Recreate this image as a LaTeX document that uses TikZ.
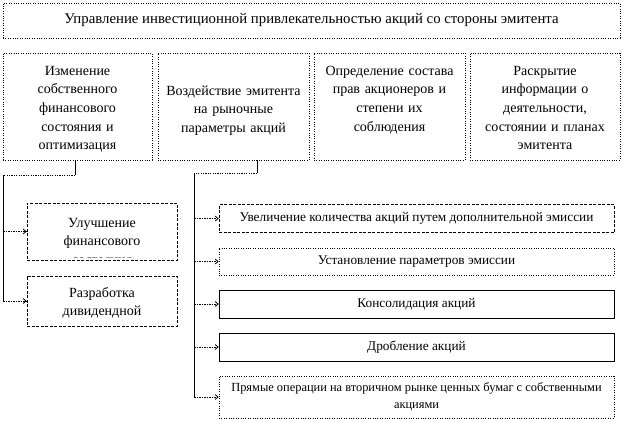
\documentclass[tikz,border=0pt]{standalone}
\usepackage{fontspec}
\setmainfont{Liberation Serif}
\usetikzlibrary{arrows.meta}
\begin{document}
\begin{tikzpicture}[x=1pt,y=-1pt,
  box/.style={draw, inner sep=0pt, line width=0.6pt},
  dotbox/.style={box, dash pattern=on 0.8pt off 1.6pt},
  dashbox/.style={box, dash pattern=on 3pt off 1.5pt},
  solbox/.style={box},
  txt/.style={font=\fontsize{14}{18.7}\selectfont, align=center, inner sep=0pt},
  rtxt/.style={font=\fontsize{13.3}{17}\selectfont, align=center},
  conn/.style={line width=0.8pt},
  hdot/.style={line width=0.9pt, dash pattern=on 1.2pt off 1.2pt},
  arr/.style={line width=0.8pt, dash pattern=on 1.5pt off 1pt, -{Straight Barb[length=3pt,width=5pt]}}]
\useasboundingbox (0,0) rectangle (624,423);

% title
\node[dotbox, minimum width=617pt, minimum height=35pt,
      font=\fontsize{14.8}{18}\selectfont] (title) at (311.5,20.5)
  {Управление инвестиционной привлекательностью акций со стороны эмитента};

% top boxes
\node[dotbox, minimum width=149pt, minimum height=107pt] (b1) at (77.5,106.5) {};
\node[dotbox, minimum width=151pt, minimum height=107pt] (b2) at (233.5,106.5) {};
\node[dotbox, minimum width=151pt, minimum height=107pt] (b3) at (389.5,106.5) {};
\node[dotbox, minimum width=150pt, minimum height=107pt] (b4) at (545,106.5) {};

\node[txt, text width=149pt, anchor=base] (t1) at (77.5,75)
  {Изменение\\собственного\\финансового\\состояния и\\оптимизация};
\node[txt, text width=151pt, anchor=base] (t2) at (233.5,95)
  {Воздействие эмитента\\на рыночные\\параметры акций};
\node[txt, text width=151pt, anchor=base] (t3) at (389.5,75)
  {Определение состава\\прав акционеров и\\степени их\\соблюдения};
\node[txt, text width=150pt, anchor=base] (t4) at (545,75)
  {Раскрытие\\информации о\\деятельности,\\состоянии и планах\\эмитента};

% left sub boxes
\node[dashbox, minimum width=150pt, minimum height=57pt] (l1) at (102,231.5) {};
\node[dashbox, minimum width=150pt, minimum height=50pt] (l2) at (102,301) {};
\begin{scope}
  \clip (l1.north west) rectangle ([yshift=2.5pt]l1.south east);
  \node[txt, text width=150pt, anchor=base] (lt1) at (102,227)
    {Улучшение\\финансового\\состояния};
\end{scope}
\begin{scope}
  \clip (l2.north west) rectangle ([yshift=2.5pt]l2.south east);
  \node[txt, text width=150pt, anchor=base] (lt2) at (102,297)
    {Разработка\\дивидендной\\политики};
\end{scope}

% right sub boxes
\node[dashbox, minimum width=395pt, minimum height=28pt, rtxt] (r1) at (416.5,218.5)
  {Увеличение количества акций путем дополнительной эмиссии};
\node[dotbox, minimum width=395pt, minimum height=27pt, rtxt] (r2) at (416.5,261.5)
  {Установление параметров эмиссии};
\node[solbox, minimum width=395pt, minimum height=28pt, rtxt] (r3) at (416.5,304)
  {Консолидация акций};
\node[solbox, minimum width=395pt, minimum height=28pt, rtxt] (r4) at (416.5,347)
  {Дробление акций};
\node[dotbox, minimum width=395pt, minimum height=42pt, rtxt,
      font=\fontsize{12.4}{16.5}\selectfont] (r5) at (416.5,397)
  {Прямые операции на вторичном рынке ценных бумаг с собственными\\акциями};

% left connectors
\coordinate (lj) at (75,175);
\coordinate (lc) at (3,175);
\draw[conn] (lj |- b1.south) -- (lj);
\draw[hdot] (lj) -- (lc);
\draw[conn] (lc) -- (lc |- l2.west);
\draw[arr] (lc |- l1.west) -- (l1.west);
\draw[arr] (lc |- l2.west) -- (l2.west);

% right connectors
\coordinate (rj) at (257,173);
\coordinate (rc) at (194,173);
\draw[conn] (rj |- b2.south) -- (rj);
\draw[hdot] (rj) -- (rc);
\draw[conn] (rc) -- (rc |- r5.west);
\draw[arr] (rc |- r1.west) -- (r1.west);
\draw[arr] (rc |- r2.west) -- (r2.west);
\draw[arr] (rc |- r3.west) -- (r3.west);
\draw[arr] (rc |- r4.west) -- (r4.west);
\draw[arr] (rc |- r5.west) -- (r5.west);
\end{tikzpicture}
\end{document}
